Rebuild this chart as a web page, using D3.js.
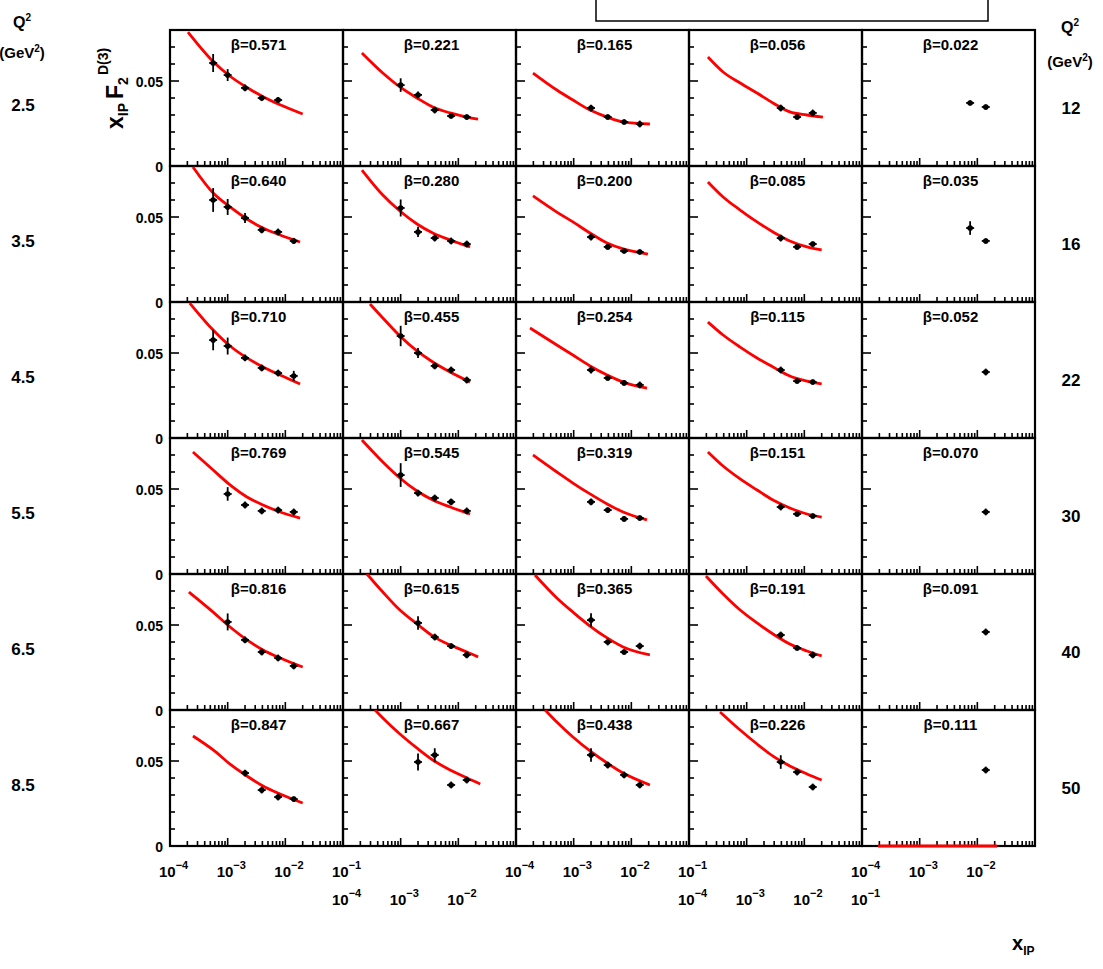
<!DOCTYPE html>
<html>
<head>
<meta charset="utf-8">
<script src="https://cdn.jsdelivr.net/npm/d3@7"></script>
<style>
  body { margin: 0; background: #fff; }
  text { font-family: 'Liberation Sans', Arial, sans-serif; font-weight: bold; fill: #000; }
</style>
</head>
<body>
<div id="chart"></div>
<script>
// beta value shown in each panel, rows top to bottom, columns left to right
const betaLabels = [
  ['0.571', '0.221', '0.165', '0.056', '0.022'],
  ['0.640', '0.280', '0.200', '0.085', '0.035'],
  ['0.710', '0.455', '0.254', '0.115', '0.052'],
  ['0.769', '0.545', '0.319', '0.151', '0.070'],
  ['0.816', '0.615', '0.365', '0.191', '0.091'],
  ['0.847', '0.667', '0.438', '0.226', '0.111']
]
const leftQ2 = ['2.5', '3.5', '4.5', '5.5', '6.5', '8.5']
const rightQ2 = ['12', '16', '22', '30', '40', '50']

// x tick label exponents under each column, and which label line they sit on
const colTickExps = [[-4, -3, -2, -1], [-4, -3, -2], [-4, -3, -2, -1], [-4, -3, -2, -1], [-4, -3, -2]]
const colLabelLine = [0, 1, 0, 1, 0]
const yTickLabels = [0, 0.05]

// data points per panel: [xP, xP*F2, error]
const pointsRow1 = [
  [[5.6e-4, 0.0606, 0.0053], [1e-3, 0.0535, 0.0035], [2e-3, 0.0459, 0.002], [3.9e-3, 0.040, 0.0018], [7.5e-3, 0.0388, 0.0018]],
  [[1e-3, 0.0476, 0.004], [2e-3, 0.0418, 0.002], [3.9e-3, 0.0329, 0.002], [7.5e-3, 0.0294, 0.0015], [1.4e-2, 0.0288, 0.0015]],
  [[2e-3, 0.0341, 0.002], [3.9e-3, 0.0288, 0.0015], [7.5e-3, 0.0259, 0.0015], [1.4e-2, 0.0247, 0.002]],
  [[3.9e-3, 0.0341, 0.002], [7.5e-3, 0.0288, 0.0015], [1.4e-2, 0.0312, 0.002]],
  [[7.5e-3, 0.0371, 0.0015], [1.4e-2, 0.0347, 0.0015]]
]
const pointsRow2 = [
  [[5.6e-4, 0.060, 0.007], [1e-3, 0.0559, 0.0047], [2e-3, 0.0494, 0.003], [3.9e-3, 0.0424, 0.002], [7.5e-3, 0.0412, 0.002], [1.4e-2, 0.0359, 0.0018]],
  [[1e-3, 0.0553, 0.005], [2e-3, 0.0412, 0.003], [3.9e-3, 0.0376, 0.002], [7.5e-3, 0.0359, 0.002], [1.4e-2, 0.0341, 0.002]],
  [[2e-3, 0.0382, 0.002], [3.9e-3, 0.0324, 0.0015], [7.5e-3, 0.030, 0.0015], [1.4e-2, 0.0294, 0.0015]],
  [[3.9e-3, 0.0376, 0.002], [7.5e-3, 0.0324, 0.0015], [1.4e-2, 0.0341, 0.0015]],
  [[7.5e-3, 0.0435, 0.004], [1.4e-2, 0.0359, 0.0015]]
]
const pointsRow3 = [
  [[5.6e-4, 0.0576, 0.006], [1e-3, 0.0541, 0.005], [2e-3, 0.0471, 0.002], [3.9e-3, 0.0412, 0.002], [7.5e-3, 0.0382, 0.002], [1.4e-2, 0.0365, 0.003]],
  [[1e-3, 0.060, 0.006], [2e-3, 0.050, 0.003], [3.9e-3, 0.0424, 0.002], [7.5e-3, 0.040, 0.002], [1.4e-2, 0.0341, 0.002]],
  [[2e-3, 0.040, 0.002], [3.9e-3, 0.0353, 0.0015], [7.5e-3, 0.0324, 0.0015], [1.4e-2, 0.0312, 0.002]],
  [[3.9e-3, 0.040, 0.002], [7.5e-3, 0.0335, 0.0015], [1.4e-2, 0.0329, 0.0015]],
  [[1.4e-2, 0.0388, 0.002]]
]
const pointsRow4 = [
  [[1e-3, 0.0471, 0.004], [2e-3, 0.0406, 0.002], [3.9e-3, 0.0371, 0.002], [7.5e-3, 0.0376, 0.002], [1.4e-2, 0.0365, 0.002]],
  [[1e-3, 0.0582, 0.007], [2e-3, 0.0476, 0.002], [3.9e-3, 0.0447, 0.002], [7.5e-3, 0.0424, 0.002], [1.4e-2, 0.0371, 0.002]],
  [[2e-3, 0.0424, 0.002], [3.9e-3, 0.0376, 0.0015], [7.5e-3, 0.0324, 0.0015], [1.4e-2, 0.0329, 0.0015]],
  [[3.9e-3, 0.0394, 0.002], [7.5e-3, 0.0353, 0.0015], [1.4e-2, 0.0341, 0.0015]],
  [[1.4e-2, 0.0365, 0.002]]
]
const pointsRow5 = [
  [[1e-3, 0.0518, 0.005], [2e-3, 0.0412, 0.002], [3.9e-3, 0.0341, 0.002], [7.5e-3, 0.0306, 0.002], [1.4e-2, 0.0259, 0.002]],
  [[2e-3, 0.0512, 0.004], [3.9e-3, 0.0429, 0.002], [7.5e-3, 0.0376, 0.0015], [1.4e-2, 0.0324, 0.002]],
  [[2e-3, 0.0529, 0.004], [3.9e-3, 0.040, 0.002], [7.5e-3, 0.0341, 0.0015], [1.4e-2, 0.0376, 0.002]],
  [[3.9e-3, 0.0441, 0.002], [7.5e-3, 0.0365, 0.0015], [1.4e-2, 0.0324, 0.002]],
  [[1.4e-2, 0.0459, 0.002]]
]
const pointsRow6 = [
  [[2e-3, 0.0429, 0.002], [3.9e-3, 0.0329, 0.002], [7.5e-3, 0.0288, 0.002], [1.4e-2, 0.0276, 0.0015]],
  [[2e-3, 0.0494, 0.005], [3.9e-3, 0.0535, 0.004], [7.5e-3, 0.0359, 0.002], [1.4e-2, 0.0388, 0.002]],
  [[2e-3, 0.0535, 0.004], [3.9e-3, 0.0476, 0.002], [7.5e-3, 0.0418, 0.002], [1.4e-2, 0.0359, 0.002]],
  [[3.9e-3, 0.0494, 0.004], [7.5e-3, 0.0435, 0.002], [1.4e-2, 0.0347, 0.002]],
  [[1.4e-2, 0.0447, 0.002]]
]

// fit curves per panel: [xP, xP*F2]
const curvesRow1 = [
  [[2.05e-4, 0.0788], [5.6e-4, 0.0615], [1.1e-3, 0.0528], [2.16e-3, 0.0462], [4.1e-3, 0.0408], [8.1e-3, 0.0360], [2.0e-2, 0.0306]],
  [[2.13e-4, 0.0665], [4.9e-4, 0.0547], [9.7e-4, 0.0465], [1.92e-3, 0.040], [3.6e-3, 0.0347], [7.2e-3, 0.0312], [1.41e-2, 0.0288], [2.2e-2, 0.0276]],
  [[1.97e-4, 0.0547], [5.1e-4, 0.0447], [9.7e-4, 0.0388], [1.92e-3, 0.0329], [3.8e-3, 0.0288], [7.2e-3, 0.0259], [2.1e-2, 0.0247]],
  [[2.13e-4, 0.0641], [3.9e-4, 0.0553], [7.7e-4, 0.0488], [1.51e-3, 0.0429], [2.86e-3, 0.0371], [5.6e-3, 0.0318], [1.11e-2, 0.030], [2.1e-2, 0.0288]],
  []
]
const curvesRow2 = [
  [[2.5e-4, 0.0794], [5.6e-4, 0.0641], [1.1e-3, 0.0559], [2.16e-3, 0.0488], [4.1e-3, 0.0435], [8.1e-3, 0.0394], [1.8e-2, 0.0353]],
  [[2.13e-4, 0.0776], [4.9e-4, 0.0629], [9.7e-4, 0.0535], [1.92e-3, 0.0459], [3.6e-3, 0.0406], [7.2e-3, 0.0365], [1.6e-2, 0.0324]],
  [[1.97e-4, 0.0624], [5.1e-4, 0.0529], [9.7e-4, 0.0471], [1.92e-3, 0.0406], [3.8e-3, 0.0347], [7.2e-3, 0.0312], [1.94e-2, 0.0282]],
  [[2.13e-4, 0.0706], [3.9e-4, 0.0618], [7.7e-4, 0.0541], [1.51e-3, 0.0471], [2.86e-3, 0.0412], [5.6e-3, 0.0359], [1.11e-2, 0.0324], [2.0e-2, 0.0306]],
  []
]
const curvesRow3 = [
  [[2.2e-4, 0.0794], [5.6e-4, 0.0635], [1.1e-3, 0.0541], [2.16e-3, 0.0471], [4.1e-3, 0.0418], [8.1e-3, 0.0371], [1.8e-2, 0.0318]],
  [[2.94e-4, 0.0788], [4.9e-4, 0.0706], [9.7e-4, 0.060], [1.92e-3, 0.0512], [3.6e-3, 0.0447], [7.2e-3, 0.0388], [1.6e-2, 0.0329]],
  [[1.75e-4, 0.0647], [5.1e-4, 0.0547], [9.7e-4, 0.0488], [1.92e-3, 0.0424], [3.8e-3, 0.0371], [7.2e-3, 0.0329], [1.87e-2, 0.0294]],
  [[2.13e-4, 0.0682], [3.9e-4, 0.0606], [7.7e-4, 0.0535], [1.51e-3, 0.0471], [2.86e-3, 0.0418], [5.6e-3, 0.0365], [1.11e-2, 0.0335], [2.0e-2, 0.0318]],
  []
]
const curvesRow4 = [
  [[2.5e-4, 0.0718], [5.6e-4, 0.0612], [1.1e-3, 0.0524], [2.16e-3, 0.0453], [4.1e-3, 0.0406], [8.1e-3, 0.0365], [1.8e-2, 0.0329]],
  [[2.13e-4, 0.0788], [4.9e-4, 0.0659], [9.7e-4, 0.0565], [1.92e-3, 0.0488], [3.6e-3, 0.0435], [7.2e-3, 0.0394], [1.6e-2, 0.0353]],
  [[1.97e-4, 0.070], [5.1e-4, 0.060], [9.7e-4, 0.0535], [1.92e-3, 0.0471], [3.8e-3, 0.0412], [7.2e-3, 0.0365], [1.87e-2, 0.0318]],
  [[2.13e-4, 0.0718], [3.9e-4, 0.0635], [7.7e-4, 0.0559], [1.51e-3, 0.0494], [2.86e-3, 0.0435], [5.6e-3, 0.0388], [1.11e-2, 0.0353], [2.0e-2, 0.0335]],
  []
]
const curvesRow5 = [
  [[2.13e-4, 0.0694], [5.6e-4, 0.0576], [1.1e-3, 0.0488], [2.16e-3, 0.0412], [4.1e-3, 0.0353], [8.1e-3, 0.0306], [2.0e-2, 0.0253]],
  [[2.6e-4, 0.080], [4.9e-4, 0.0694], [9.7e-4, 0.0588], [1.92e-3, 0.0506], [3.6e-3, 0.0435], [7.2e-3, 0.0382], [1.41e-2, 0.0341], [2.2e-2, 0.0312]],
  [[2.13e-4, 0.0794], [5.1e-4, 0.0659], [9.7e-4, 0.0576], [1.92e-3, 0.0494], [3.8e-3, 0.0424], [7.2e-3, 0.0371], [2.1e-2, 0.0324]],
  [[1.97e-4, 0.0788], [3.9e-4, 0.0682], [7.7e-4, 0.0588], [1.51e-3, 0.0512], [2.86e-3, 0.0447], [5.6e-3, 0.0388], [1.11e-2, 0.0347], [2.0e-2, 0.0318]],
  []
]
const curvesRow6 = [
  [[2.5e-4, 0.0647], [5.6e-4, 0.0565], [1.1e-3, 0.0482], [2.16e-3, 0.0412], [4.1e-3, 0.0353], [8.1e-3, 0.0306], [2.0e-2, 0.0253]],
  [[3.6e-4, 0.080], [4.9e-4, 0.0753], [9.7e-4, 0.0659], [1.92e-3, 0.0576], [3.6e-3, 0.0506], [7.2e-3, 0.0447], [1.41e-2, 0.040], [2.4e-2, 0.0365]],
  [[3.2e-4, 0.080], [5.1e-4, 0.0729], [9.7e-4, 0.0641], [1.92e-3, 0.0559], [3.8e-3, 0.0488], [7.2e-3, 0.0429], [2.1e-2, 0.0359]],
  [[3.45e-4, 0.0788], [7.7e-4, 0.0682], [1.51e-3, 0.060], [2.86e-3, 0.0529], [5.6e-3, 0.0471], [1.11e-2, 0.0424], [2.0e-2, 0.0388]],
  [[1.9e-4, 0], [2.2e-2, 0]]
]

const pointRows = [pointsRow1, pointsRow2, pointsRow3, pointsRow4, pointsRow5, pointsRow6]
const curveRows = [curvesRow1, curvesRow2, curvesRow3, curvesRow4, curvesRow5, curvesRow6]

const width = 1103
const height = 969
const gridLeft = 170
const gridTop = 30
const pw = 173
const ph = 136

const x = d3.scaleLog().domain([1e-4, 1e-1]).range([0, pw])
const y = d3.scaleLinear().domain([0, 0.08]).range([ph, 0])

const svg = d3.select('#chart')
  .append('svg')
  .attr('width', width)
  .attr('height', height)

svg.append('defs')
  .append('clipPath')
  .attr('id', 'panel-clip')
  .append('rect')
  .attr('x', 0)
  .attr('y', 0)
  .attr('width', pw)
  .attr('height', ph + 2)

const line = d3.line()
  .x(d => x(d[0]))
  .y(d => y(d[1]))
  .curve(d3.curveMonotoneX)

// tick positions come from the scales themselves
const isDecade = v => Math.abs(Math.log10(v) - Math.round(Math.log10(v))) < 1e-6
const xTicks = x.ticks().filter(v => v > x.domain()[0] && v < x.domain()[1])
const yTicks = y.ticks(8).filter(v => v > 0 && v < 0.08)

pointRows.forEach((row, r) => {
  row.forEach((pts, c) => {
    const g = svg.append('g')
      .attr('transform', `translate(${gridLeft + c * pw}, ${gridTop + r * ph})`)

    // inward ticks, bottom (log) and left (linear)
    g.selectAll('.xt')
      .data(xTicks)
      .enter()
      .append('line')
      .attr('class', 'xt')
      .attr('x1', d => x(d)).attr('x2', d => x(d))
      .attr('y1', ph)
      .attr('y2', d => ph - (isDecade(d) ? 8 : 5))
      .attr('stroke', '#000')
      .attr('stroke-width', 1.6)
    g.selectAll('.yt')
      .data(yTicks)
      .enter()
      .append('line')
      .attr('class', 'yt')
      .attr('x1', 0)
      .attr('x2', d => (Math.abs(d - 0.05) < 1e-9 ? 9 : 5))
      .attr('y1', d => y(d)).attr('y2', d => y(d))
      .attr('stroke', '#000')
      .attr('stroke-width', 1.6)

    g.append('rect')
      .attr('width', pw)
      .attr('height', ph)
      .attr('fill', 'none')
      .attr('stroke', '#000')
      .attr('stroke-width', 2.2)

    // fit curve
    const curve = curveRows[r][c]
    if (curve.length) {
      g.append('path')
        .datum(curve)
        .attr('clip-path', 'url(#panel-clip)')
        .attr('d', line)
        .attr('fill', 'none')
        .attr('stroke', '#ff0000')
        .attr('stroke-width', 2.8)
    }

    // data points with errors
    const p = g.selectAll('.pt')
      .data(pts)
      .enter()
      .append('g')
      .attr('class', 'pt')
    p.append('line')
      .attr('x1', d => x(d[0])).attr('x2', d => x(d[0]))
      .attr('y1', d => y(d[1] - d[2])).attr('y2', d => y(d[1] + d[2]))
      .attr('stroke', '#000').attr('stroke-width', 1.8)
    p.append('line')
      .attr('x1', d => x(d[0]) - 4).attr('x2', d => x(d[0]) + 4)
      .attr('y1', d => y(d[1])).attr('y2', d => y(d[1]))
      .attr('stroke', '#000').attr('stroke-width', 1.8)
    p.append('circle')
      .attr('cx', d => x(d[0]))
      .attr('cy', d => y(d[1]))
      .attr('r', 2.8)
      .attr('fill', '#000')

    g.append('text')
      .attr('x', pw / 2 + 2)
      .attr('y', 20)
      .attr('text-anchor', 'middle')
      .style('font-size', '15px')
      .text(`β=${betaLabels[r][c]}`)
  })

  // y tick labels on the left column
  yTickLabels.forEach(v => {
    svg.append('text')
      .attr('x', gridLeft - 7)
      .attr('y', gridTop + r * ph + y(v) + 6)
      .attr('text-anchor', 'end')
      .style('font-size', '14px')
      .text(v === 0 ? '0' : '0.05')
  })

  svg.append('text')
    .attr('x', 23)
    .attr('y', gridTop + r * ph + 81)
    .attr('text-anchor', 'middle')
    .style('font-size', '17px')
    .text(leftQ2[r])

  svg.append('text')
    .attr('x', 1071)
    .attr('y', gridTop + r * ph + 84)
    .attr('text-anchor', 'middle')
    .style('font-size', '17px')
    .text(rightQ2[r])
})

// x tick labels, staggered on two lines
colTickExps.forEach((exps, c) => {
  exps.forEach(e => {
    const t = svg.append('text')
      .attr('x', gridLeft + c * pw + x(Math.pow(10, e)) - 11)
      .attr('y', gridTop + 6 * ph + 31 + colLabelLine[c] * 28)
      .style('font-size', '15px')
    t.append('tspan').text('10')
    t.append('tspan').attr('dy', -8).style('font-size', '11px').text('−' + Math.abs(e))
  })
})

// Q² headers
const q2Head = (cx, y1, y2) => {
  const t = svg.append('text')
    .attr('x', cx)
    .attr('y', y1)
    .attr('text-anchor', 'middle')
    .style('font-size', '16px')
  t.append('tspan').text('Q')
  t.append('tspan').attr('dy', -7).style('font-size', '10px').text('2')
  const u = svg.append('text')
    .attr('x', cx)
    .attr('y', y2)
    .attr('text-anchor', 'middle')
    .style('font-size', '15px')
  u.append('tspan').text('(GeV')
  u.append('tspan').attr('dy', -6).style('font-size', '10px').text('2')
  u.append('tspan').attr('dy', 6).text(')')
}
q2Head(22, 28, 58)
q2Head(1070, 33, 67)

// y axis title
const yt = svg.append('text')
  .attr('transform', 'translate(123, 129) rotate(-90)')
  .style('font-size', '23px')
yt.append('tspan').text('x')
yt.append('tspan').attr('dy', 5).style('font-size', '14px').text('IP')
yt.append('tspan').attr('dy', -5).attr('dx', 4).text('F')
yt.append('tspan').attr('dy', 5).style('font-size', '14px').text('2')
yt.append('tspan').attr('dy', -20).attr('dx', 2).style('font-size', '14px').text('D(3)')

// x axis title
const xt = svg.append('text')
  .attr('x', 1012)
  .attr('y', 950)
  .style('font-size', '20px')
xt.append('tspan').text('x')
xt.append('tspan').attr('dy', 5).style('font-size', '12px').text('IP')

// empty legend box at top
svg.append('rect')
  .attr('x', 596)
  .attr('y', -2)
  .attr('width', 392)
  .attr('height', 23)
  .attr('fill', 'none')
  .attr('stroke', '#000')
  .attr('stroke-width', 1.5)
</script>
</body>
</html>
